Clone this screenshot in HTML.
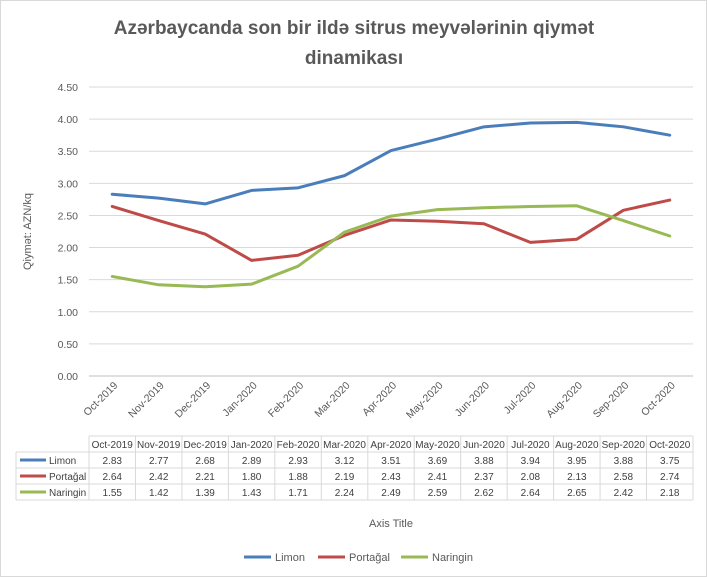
<!DOCTYPE html>
<html><head><meta charset="utf-8"><style>
body{margin:0;background:#fff;font-family:"Liberation Sans",sans-serif;}
#wrap{position:relative;width:707px;height:577px;overflow:hidden;border:1px solid #d9d9d9;box-sizing:border-box;}
</style></head><body>
<div id="wrap">
<svg id="chart" width="707" height="577"></svg>
</div>
<script>
const categories=["Oct-2019","Nov-2019","Dec-2019","Jan-2020","Feb-2020","Mar-2020","Apr-2020","May-2020","Jun-2020","Jul-2020","Aug-2020","Sep-2020","Oct-2020"];
const limon=[2.83,2.77,2.68,2.89,2.93,3.12,3.51,3.69,3.88,3.94,3.95,3.88,3.75];
const portagal=[2.64,2.42,2.21,1.80,1.88,2.19,2.43,2.41,2.37,2.08,2.13,2.58,2.74];
const naringin=[1.55,1.42,1.39,1.43,1.71,2.24,2.49,2.59,2.62,2.64,2.65,2.42,2.18];
const yTicks=[0,0.5,1,1.5,2,2.5,3,3.5,4,4.5];
const seriesNames=["Limon","Portağal","Naringin"];
const colors=["#4a7ebb","#be4b48","#98b954"];
const series=[limon,portagal,naringin];
const NS="http://www.w3.org/2000/svg";
const svg=document.getElementById('chart');
const L=88,R=692,T=86,B=375,colW=(R-L)/categories.length;
const x=i=>L+colW*(i+0.5);
const y=v=>B-(v/4.5)*(B-T);
function mk(t,a,p){const e=document.createElementNS(NS,t);for(const k in a)e.setAttribute(k,a[k]);(p||svg).appendChild(e);return e;}
function txt(s,a){const e=mk('text',a);e.textContent=s;return e;}
let t=txt("Azərbaycanda son bir ildə sitrus meyvələrinin qiymət",{x:353,y:33,'text-anchor':'middle','font-size':19,'font-weight':'bold',fill:'#595959'});

t=txt("dinamikası",{x:353,y:63,'text-anchor':'middle','font-size':19,'font-weight':'bold',fill:'#595959'});

yTicks.forEach(v=>{
 const g=mk('line',{x1:L,x2:R,y1:y(v),y2:y(v),stroke:v===0?'#bfbfbf':'#d9d9d9','stroke-width':1});
 
 const l=txt(v.toFixed(2),{x:77,y:y(v)+4,'text-anchor':'end','font-size':10.5,fill:'#595959'});
 
});
t=txt("Qiymət: AZN/kq",{x:0,y:0,'text-anchor':'middle','font-size':11,fill:'#595959',transform:`translate(30,${(T+B)/2}) rotate(-90)`});

categories.forEach((c,i)=>{
 const l=txt(c,{x:0,y:0,'text-anchor':'end','font-size':10.5,fill:'#595959',transform:`translate(${x(i)+6},${B+10}) rotate(-45)`});
 
});
series.forEach((s,k)=>{
 const p=mk('polyline',{points:s.map((v,i)=>x(i)+','+y(v)).join(' '),fill:'none',stroke:colors[k],'stroke-width':3,'stroke-linejoin':'round','stroke-linecap':'round'});
 
});
const TT=435,RH=16,TL=15;
const line=(x1,y1,x2,y2)=>{const e=mk('line',{x1,y1,x2,y2,stroke:'#d9d9d9','stroke-width':1});};
line(L,TT,R,TT);
for(let r=1;r<=4;r++)line(TL,TT+RH*r,R,TT+RH*r);
line(TL,TT+RH,TL,TT+RH*4);
for(let i=0;i<=categories.length;i++)line(L+colW*i,TT,L+colW*i,TT+RH*4);
categories.forEach((c,i)=>{
 const e=txt(c,{x:x(i),y:TT+12,'text-anchor':'middle','font-size':10,fill:'#404040'});
 
});
series.forEach((s,k)=>{
 const yy=TT+RH*(k+1);
 const m=mk('line',{x1:19,x2:45,y1:yy+8,y2:yy+8,stroke:colors[k],'stroke-width':3});
 
 let e=txt(seriesNames[k],{x:48,y:yy+12,'font-size':10,fill:'#404040'});
 
 s.forEach((v,i)=>{
  const c=txt(v.toFixed(2),{x:x(i),y:yy+12,'text-anchor':'middle','font-size':10,fill:'#404040'});
  
 });
});
t=txt("Axis Title",{x:390,y:526,'text-anchor':'middle','font-size':11,fill:'#595959'});

const lx=[243,317,400];
seriesNames.forEach((n,k)=>{
 const m=mk('line',{x1:lx[k],x2:lx[k]+27,y1:556,y2:556,stroke:colors[k],'stroke-width':3});
 
 const e=txt(n,{x:lx[k]+31,y:560,'font-size':11,fill:'#595959'});
 
});
</script>
</body></html>
